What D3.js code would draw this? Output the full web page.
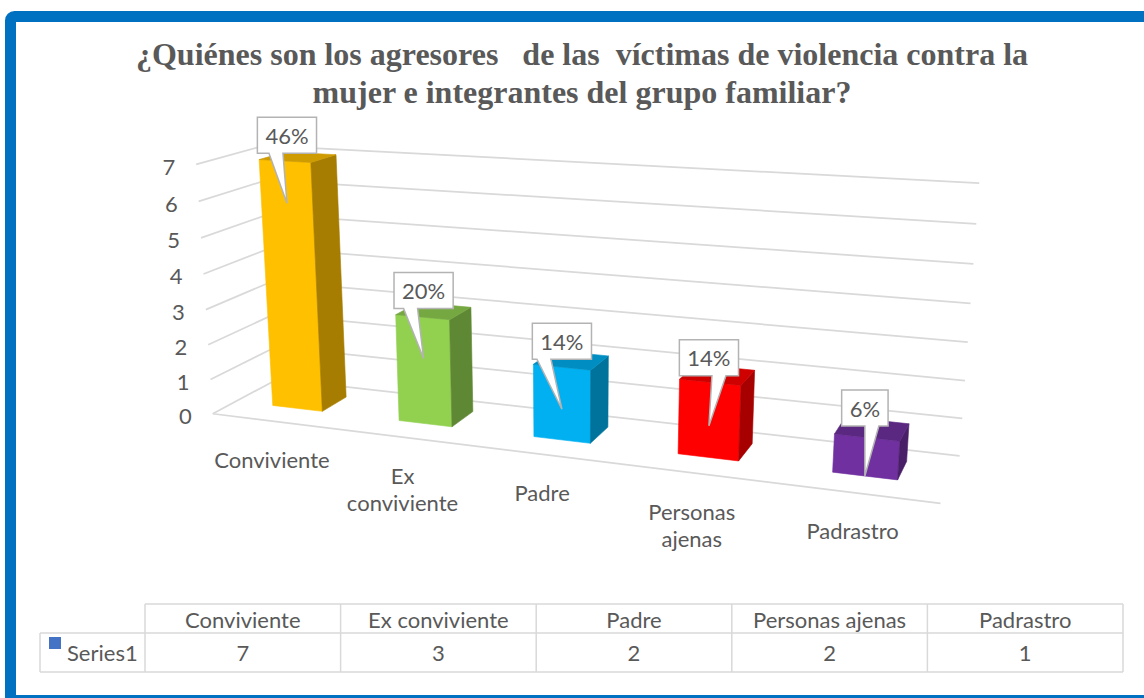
<!DOCTYPE html>
<html><head><meta charset="utf-8">
<script src="https://cdn.jsdelivr.net/npm/d3@7"></script>
<style>body{margin:0;background:#fff}svg{display:block}</style>
</head><body>
<svg id="chart" width="1144" height="698"></svg>
<script>
const categories = ["Conviviente","Ex conviviente","Padre","Personas ajenas","Padrastro"];
const values = [7,3,2,2,1];
const percentLabels = ["46%","20%","14%","14%","6%"];
const yTicks = [0,1,2,3,4,5,6,7];
const seriesName = "Series1";
const barColors = ["#FFC000","#92D050","#00B0F0","#FF0000","#7030A0"];
const titleLines = ["¿Quiénes son los agresores   de las  víctimas de violencia contra la","mujer e integrantes del grupo familiar?"];

// 3D perspective camera (projective 3x4 matrix, world: category units × value units × depth)
const camera = [0.335135, 0.000109, 0.107540, -0.918054, 0.031009, -0.086473, -0.077693, 0.209375, -0.031887, -0.006288, 0.071088];
const barWidth = 0.40, barFront = 0.35, barDepth = 0.40;
function project(X,Y,Z){
  const P=camera, w=P[8]*X+P[9]*Y+P[10]*Z+1;
  return [(P[0]*X+P[1]*Y+P[2]*Z+P[3])/w*400+580,(P[4]*X+P[5]*Y+P[6]*Z+P[7])/w*400+330];
}

const svg=d3.select("#chart");
const textColor="#595959",gridColor="#d9d9d9",labelFont="Lato";
const xWorld=d3.scaleBand().domain(categories).range([0,5]);
const yWorld=d3.scaleLinear().domain([0,7]).range([0,7]);
const line=d3.line();

// frame
svg.append("rect").attr("x",10.5).attr("y",16.5).attr("width",1150).attr("height",684).attr("rx",4)
  .attr("fill","#fff").attr("stroke","#0070C0").attr("stroke-width",11);

// title
titleLines.forEach((t,i)=>svg.append("text").attr("x",582).attr("y",65+i*38).attr("text-anchor","middle")
  .attr("xml:space","preserve").style("white-space","pre")
  .attr("font-family","'Liberation Serif','Times New Roman',serif").attr("font-weight","bold").attr("font-size",32)
  .attr("fill",textColor).text(t));

const g=svg.append("g");
// gridlines: side wall, back wall, floor front edge
yTicks.forEach(v=>{
  g.append("path").attr("d",line([project(0,yWorld(v),0),project(0,yWorld(v),1)])).attr("stroke",gridColor).attr("stroke-width",1.75).attr("fill","none");
  g.append("path").attr("d",line([project(0,yWorld(v),1),project(5,yWorld(v),1)])).attr("stroke",gridColor).attr("stroke-width",1.75).attr("fill","none");
});
g.append("path").attr("d",line([project(0,0,0),project(5,0,0)])).attr("stroke",gridColor).attr("stroke-width",1.75).attr("fill","none");

// y tick labels
yTicks.forEach(v=>{const p=project(0,yWorld(v),0);
  g.append("text").attr("x",p[0]-21).attr("y",p[1]+2).attr("text-anchor","end").attr("dominant-baseline","central")
   .attr("font-family",labelFont).attr("font-size",22).attr("fill",textColor).text(v);});

// bars
categories.forEach((c,i)=>{
  const x0=xWorld(c)+xWorld.bandwidth()*(0.5-barWidth/2),x1=xWorld(c)+xWorld.bandwidth()*(0.5+barWidth/2);
  const y=yWorld(values[i]),za=barFront,zb=barFront+barDepth;
  const col=d3.color(barColors[i]);
  const faces=[
    {pts:[[x0,0,za],[x1,0,za],[x1,y,za],[x0,y,za]],fill:col.formatHex()},
    {pts:[[x1,0,za],[x1,0,zb],[x1,y,zb],[x1,y,za]],fill:col.darker(1.2).formatHex()},
    {pts:[[x0,y,za],[x1,y,za],[x1,y,zb],[x0,y,zb]],fill:col.darker(0.6).formatHex()}];
  faces.forEach(f=>g.append("path").attr("d",line(f.pts.map(p=>project(...p)))+"Z").attr("fill",f.fill).attr("stroke",f.fill).attr("stroke-width",0.6));
});

// category labels
categories.forEach((c,i)=>{
  const p=project(xWorld(c)+xWorld.bandwidth()/2,0,0);
  const words=c.split(" ");
  const lines=(c.length>12)?[words[0],words.slice(1).join(" ")]:[c];
  lines.forEach((l,k)=>g.append("text").attr("x",p[0]-3).attr("y",p[1]+38+k*27).attr("text-anchor","middle").attr("dominant-baseline","central")
   .attr("font-family",labelFont).attr("font-size",22).attr("fill",textColor).text(l));
});

// percent callouts
const ptrOffset=[-11,-13,-18,10,7];
categories.forEach((c,i)=>{
  const cx=xWorld(c)+xWorld.bandwidth()/2;
  const tip=project(cx,Math.max(yWorld(values[i])-1.15,0),barFront);
  const t=g.append("text").attr("x",tip[0]).attr("y",tip[1]-50-18).attr("text-anchor","middle").attr("dominant-baseline","central")
   .attr("font-family",labelFont).attr("font-size",22).attr("fill",textColor).text(percentLabels[i]);
  const tw=t.node().getComputedTextLength();
  const L=tip[0]-tw/2-8,R=tip[0]+tw/2+8,B=tip[1]-50,T=B-36,bc=tip[0]+ptrOffset[i];
  g.append("path").attr("d",`M${L},${T}H${R}V${B}H${bc+7}L${tip[0]},${tip[1]}L${bc-7},${B}H${L}Z`)
   .attr("fill","#fff").attr("stroke","#b3b3b3").attr("stroke-width",1.5);
  t.raise();
});

// data table
const colX=d3.scaleBand().domain(categories).range([145,1123]);
const rowY=[604,633,672];
const tb=svg.append("g").attr("stroke","#d9d9d9").attr("stroke-width",1.5);
tb.append("line").attr("x1",145).attr("x2",1123).attr("y1",rowY[0]).attr("y2",rowY[0]);
tb.append("line").attr("x1",40).attr("x2",1123).attr("y1",rowY[1]).attr("y2",rowY[1]);
tb.append("line").attr("x1",40).attr("x2",1123).attr("y1",rowY[2]).attr("y2",rowY[2]);
tb.append("line").attr("x1",40).attr("x2",40).attr("y1",rowY[1]).attr("y2",rowY[2]);
categories.forEach(c=>tb.append("line").attr("x1",colX(c)).attr("x2",colX(c)).attr("y1",rowY[0]).attr("y2",rowY[2]));
tb.append("line").attr("x1",1123).attr("x2",1123).attr("y1",rowY[0]).attr("y2",rowY[2]);
categories.forEach((c,i)=>{
  svg.append("text").attr("x",colX(c)+colX.bandwidth()/2).attr("y",(rowY[0]+rowY[1])/2+1).attr("text-anchor","middle").attr("dominant-baseline","central")
   .attr("font-family",labelFont).attr("font-size",22).attr("fill",textColor).text(c);
  svg.append("text").attr("x",colX(c)+colX.bandwidth()/2).attr("y",(rowY[1]+rowY[2])/2).attr("text-anchor","middle").attr("dominant-baseline","central")
   .attr("font-family",labelFont).attr("font-size",22).attr("fill",textColor).text(values[i]);
});
svg.append("rect").attr("x",49).attr("y",637).attr("width",12).attr("height",12).attr("fill","#4472C4");
svg.append("text").attr("x",67).attr("y",(rowY[1]+rowY[2])/2).attr("dominant-baseline","central")
 .attr("font-family",labelFont).attr("font-size",22).attr("fill",textColor).text(seriesName);
</script></body></html>
